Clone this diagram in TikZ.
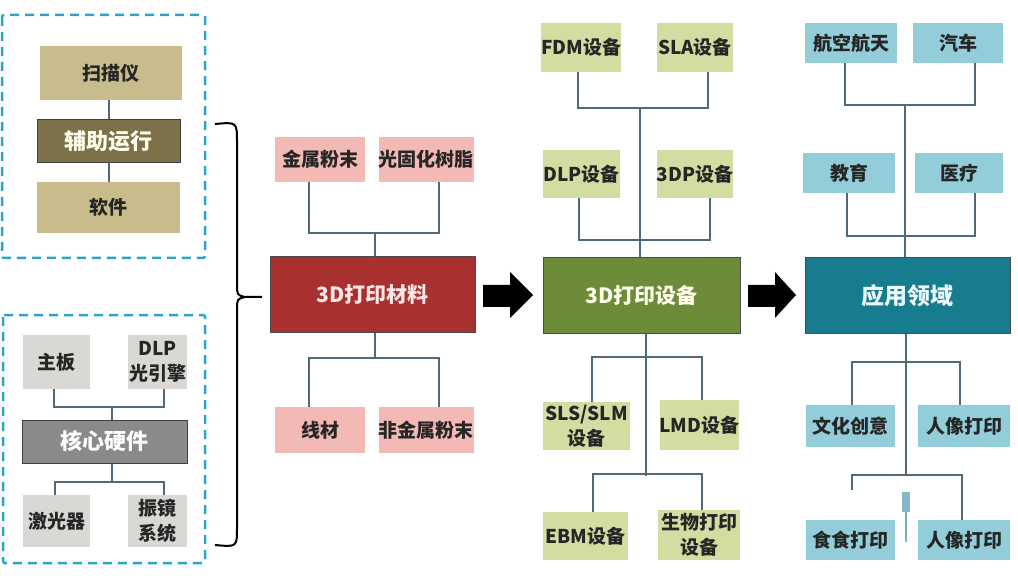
\documentclass[tikz,border=0pt]{standalone}
\usepackage{fontspec}
\setmainfont{Noto Sans CJK SC}
\usetikzlibrary{calc}
\definecolor{tanc}{HTML}{C8BB8C}
\definecolor{olivec}{HTML}{7D7149}
\definecolor{lgrayc}{HTML}{DAD8D4}
\definecolor{coregray}{HTML}{8A8A8A}
\definecolor{pinkc}{HTML}{F3B9B4}
\definecolor{redc}{HTML}{A8302F}
\definecolor{lgreenc}{HTML}{D4DDA1}
\definecolor{greenc}{HTML}{6D8C3A}
\definecolor{ltealc}{HTML}{93CDD9}
\definecolor{tealc}{HTML}{177C8D}
\definecolor{linec}{HTML}{4F6B7A}
\definecolor{dashc}{HTML}{2AA5C9}
\begin{document}
\begin{tikzpicture}[x=1pt,y=-1pt,
  box/.style={rectangle, inner sep=0pt, align=center, text=black!85,
    font=\bfseries\fontsize{19}{25}\selectfont},
  tanbox/.style={box, fill=tanc},
  lgraybox/.style={box, fill=lgrayc},
  pinkbox/.style={box, fill=pinkc},
  lgreenbox/.style={box, fill=lgreenc},
  ltealbox/.style={box, fill=ltealc},
  subhead/.style={box, draw=black!75, line width=1pt, font=\bfseries\fontsize{22}{24}\selectfont},
  mainbox/.style={box, draw=black!70, line width=1pt, font=\bfseries\fontsize{21}{24}\selectfont},
  conn/.style={draw=linec, line width=2pt},
  grp/.style={draw=dashc, line width=2.5pt, dash pattern=on 9pt off 6pt, rounded corners=2pt},
  blockarrow/.style={fill=black},
  brace/.style={draw=black, line width=2pt}
]
\useasboundingbox (0,0) rectangle (1018,580);

% ---------- left groups ----------
\draw[grp] (2,15) rectangle (205,258);
\draw[grp] (3,315) rectangle (205,563);

\node[tanbox, minimum width=142pt, minimum height=54pt] (scan) at (111,73) {扫描仪};
\node[subhead, fill=olivec, text=white!92!yellow, minimum width=143pt, minimum height=43pt] (aux) at (108.5,141.5) {辅助运行};
\node[tanbox, minimum width=143pt, minimum height=51pt] (soft) at (108.5,207.5) {软件};
\draw[conn] (scan.south -| aux.north) -- (aux.north);
\draw[conn] (aux.south) -- (soft.north);

\node[lgraybox, minimum width=67pt, minimum height=54pt] (mb) at (56.5,362) {主板};
\node[lgraybox, minimum width=59pt, minimum height=54pt] (dlp) at (157.5,362) {DLP\\光引擎};
\node[subhead, fill=coregray, text=white!92, minimum width=165pt, minimum height=43pt] (core) at (104.5,441.5) {核心硬件};
\node[lgraybox, minimum width=67pt, minimum height=52pt] (laser) at (56.5,521) {激光器};
\node[lgraybox, minimum width=59pt, minimum height=52pt] (galvo) at (157.5,521) {振镜\\系统};
\draw[conn] ([xshift=-3pt]mb.south) -- ++(0,18) -| ([xshift=6pt]dlp.south);
\draw[conn] ([xshift=7pt]core.north) -- ++(0,-13);
\draw[conn] ([xshift=-2pt]laser.north) -- ++(0,-13) -| ([xshift=6pt]galvo.north);
\draw[conn] ([xshift=7pt]core.south) -- ++(0,19);

% ---------- brace ----------
\coordinate (bracetip) at (262,297);
\draw[brace] (215,124) .. controls (237,122) .. (237,142) -- (237,284)
  .. controls (237,295) .. (245,297) -- (bracetip);
\draw[brace] (215,545) .. controls (237,547) .. (237,528) -- (237,310)
  .. controls (237,299) .. (245,297);

% ---------- materials ----------
\node[pinkbox, minimum width=90pt, minimum height=45pt] (mp) at (320,159.5) {金属粉末};
\node[pinkbox, minimum width=94pt, minimum height=45pt] (resin) at (426,159.5) {光固化树脂};
\node[mainbox, fill=redc, text=pink!40, minimum width=205pt, minimum height=75pt] (mat) at (372.5,294.5) {3D打印材料};
\node[pinkbox, minimum width=90pt, minimum height=46pt] (wire) at (320,430) {线材};
\node[pinkbox, minimum width=94pt, minimum height=46pt] (nonmetal) at (426,430) {非金属粉末};
\draw[conn] ([xshift=-11pt]mp.south) -- ++(0,51) -| ([xshift=13pt]resin.south);
\draw[conn] ([xshift=2pt]mat.north) -- ++(0,-24);
\draw[conn] ([xshift=2pt]mat.south) -- ++(0,26);
\draw[conn] ([xshift=-11pt]wire.north) -- ++(0,-49) -| ([xshift=13pt]nonmetal.north);

% ---------- arrows ----------
\fill[blockarrow] (483,285) -- (510,285) -- (510,272) -- (533,295) -- (510,318) -- (510,307) -- (483,307) -- cycle;
\fill[blockarrow] (748,285) -- (775,285) -- (775,272) -- (796,295) -- (775,318) -- (775,307) -- (748,307) -- cycle;

% ---------- equipment ----------
\node[lgreenbox, minimum width=78pt, minimum height=49pt] (fdm) at (581,47.5) {FDM设备};
\node[lgreenbox, minimum width=76pt, minimum height=49pt] (sla) at (695,47.5) {SLA设备};
\node[lgreenbox, minimum width=77pt, minimum height=48pt] (dlpe) at (581.5,174) {DLP设备};
\node[lgreenbox, minimum width=76pt, minimum height=48pt] (tdp) at (695,174) {3DP设备};
\node[mainbox, fill=greenc, text=white!92!yellow, minimum width=197pt, minimum height=75pt] (eq) at (641.5,295.5) {3D打印设备};
\node[lgreenbox, minimum width=87pt, minimum height=48pt] (sls) at (586.5,426) {SLS/SLM\\设备};
\node[lgreenbox, minimum width=75pt, minimum height=50pt] (lmd) at (699.5,425) {LMD设备};
\node[lgreenbox, minimum width=85pt, minimum height=48pt] (ebm) at (585.5,536) {EBM设备};
\node[lgreenbox, minimum width=82pt, minimum height=50pt] (bio) at (699,535) {生物打印\\设备};
\draw[conn] ([xshift=-3pt]fdm.south) -- ++(0,36) -| ([xshift=13pt]sla.south);
\draw[conn] ([xshift=-2.5pt]dlpe.south) -- ++(0,42) -| ([xshift=15pt]tdp.south);
\draw[conn] ([xshift=-1.5pt]eq.north) -- ++(0,-150);
\draw[conn] ([xshift=4.5pt]eq.south) -- ++(0,142);
\draw[conn] ([xshift=5.5pt]sls.north) -- ++(0,-45) -| ([xshift=2.5pt]lmd.north);
\draw[conn] ([xshift=7.5pt]ebm.north) -- ++(0,-38) -| ([xshift=3pt]bio.north);

% ---------- applications ----------
\node[ltealbox, minimum width=92pt, minimum height=40pt] (aero) at (851,43) {航空航天};
\node[ltealbox, minimum width=90pt, minimum height=40pt] (car) at (958,43) {汽车};
\node[ltealbox, minimum width=92pt, minimum height=40pt] (edu) at (849,173) {教育};
\node[ltealbox, minimum width=88pt, minimum height=40pt] (med) at (959,173) {医疗};
\node[mainbox, fill=tealc, text=white!92!cyan, minimum width=205pt, minimum height=75pt, font=\bfseries\fontsize{23}{24}\selectfont] (app) at (907.5,295.5) {应用领域};
\node[ltealbox, minimum width=89pt, minimum height=42pt] (cult) at (850.5,426) {文化创意};
\node[ltealbox, minimum width=92pt, minimum height=42pt] (port1) at (964,426) {人像打印};
\node[ltealbox, minimum width=89pt, minimum height=40pt] (food) at (850.5,540) {食食打印};
\node[ltealbox, minimum width=92pt, minimum height=40pt] (port2) at (964,540) {人像打印};
\draw[conn] ([xshift=-6pt]aero.south) -- ++(0,42) -| ([xshift=17pt]car.south);
\draw[conn] ([xshift=-2pt]edu.south) -- ++(0,43) -| ([xshift=16pt]med.south);
\draw[conn] ([xshift=-2.5pt]app.north) -- ++(0,-153);
\draw[conn] ([xshift=-1.5pt]app.south) -- ++(0,142);
\draw[conn] ([xshift=1.5pt]cult.north) -- ++(0,-43) -| ([xshift=-4pt]port1.north);
\coordinate (foodstub) at (852,490);
\draw[conn] ([xshift=-2pt]port2.north) -- ++(0,-45) -| (foodstub);
\fill[ltealc!80!linec] (902,492) rectangle (910,512);
\draw[ltealc!70!linec, line width=1.5pt] (906,512) -- (906,542);
\end{tikzpicture}
\end{document}
